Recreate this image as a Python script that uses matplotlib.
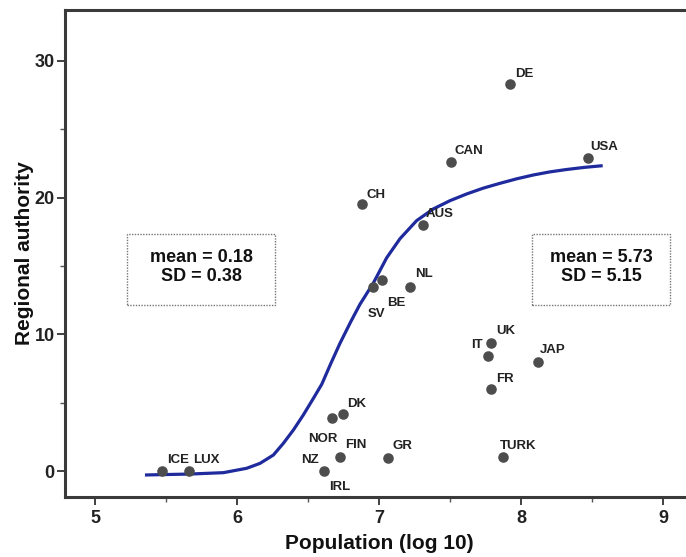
import matplotlib
matplotlib.use("Agg")
import matplotlib.pyplot as plt
from matplotlib.patches import Rectangle

plt.rcParams['font.family'] = ['Liberation Sans', 'DejaVu Sans']

# Countries: population (log10) vs regional authority
countries = ['ICE', 'LUX', 'NZ/IRL', 'NOR/FIN', 'DK-1', 'DK-2', 'GR', 'TURK', 'FR', 'IT',
             'UK', 'JAP', 'SV', 'BE', 'NL', 'AUS', 'CH', 'CAN', 'DE', 'USA']
pop_log = [5.47, 5.66, 6.615, 6.725, 6.67, 6.75, 7.06, 7.87, 7.79, 7.77,
           7.79, 8.12, 6.96, 7.02, 7.22, 7.31, 6.88, 7.51, 7.92, 8.47]
authority = [0.0, 0.0, 0.0, 1.0, 3.9, 4.15, 0.95, 1.0, 6.0, 8.4,
             9.4, 7.95, 13.5, 13.95, 13.5, 18.0, 19.5, 22.6, 28.3, 22.9]

# fitted logistic curve
curve_x = [5.352, 5.669, 5.904, 6.068, 6.162, 6.256, 6.326, 6.397, 6.467, 6.537,
           6.597, 6.66, 6.725, 6.80, 6.866, 6.96, 7.054, 7.148, 7.265, 7.383,
           7.50, 7.617, 7.735, 7.852, 7.97, 8.087, 8.20, 8.32, 8.45, 8.575]
curve_y = [-0.29, -0.22, -0.12, 0.2, 0.56, 1.17, 2.02, 3.0, 4.1, 5.3,
           6.35, 7.85, 9.34, 10.9, 12.2, 13.75, 15.6, 17.0, 18.32, 19.18,
           19.78, 20.27, 20.7, 21.05, 21.38, 21.66, 21.88, 22.06, 22.22, 22.34]

# point labels: text, x, baseline y, alignment
label_text = ['ICE', 'LUX', 'NZ', 'IRL', 'NOR', 'FIN', 'DK', 'GR', 'TURK', 'FR', 'IT',
              'UK', 'JAP', 'SV', 'BE', 'NL', 'AUS', 'CH', 'CAN', 'DE', 'USA']
label_x = [5.51, 5.69, 6.577, 6.648, 6.71, 6.758, 6.775, 7.094, 7.85, 7.824, 7.73,
           7.824, 8.135, 6.92, 7.057, 7.257, 7.33, 6.91, 7.535, 7.96, 8.49]
label_y = [0.58, 0.58, 0.58, -1.39, 2.14, 1.70, 4.67, 1.6, 1.6, 6.52, 8.98,
           10.0, 8.64, 11.3, 12.1, 14.2, 18.6, 20.0, 23.2, 28.8, 23.5]
label_ha = ['left', 'left', 'right', 'left', 'right', 'left', 'left', 'left', 'left', 'left',
            'right', 'left', 'left', 'left', 'left', 'left', 'left', 'left', 'left', 'left', 'left']

stats_left = 'mean = 0.18\nSD = 0.38'
stats_right = 'mean = 5.73\nSD = 5.15'

W, H = 686, 557
L, R, B, T = 65, 693, 497, 10
fig = plt.figure(figsize=(W / 100, H / 100), dpi=100)
ax = fig.add_axes([L / W, 1 - B / H, (R - L) / W, (B - T) / H])
ax.set_xlim(4.789, 9.211)
ax.set_ylim(-1.90, 33.73)

ax.plot(curve_x, curve_y, color='#1f2a9c', lw=2.3, zorder=2, solid_capstyle='butt',
        solid_joinstyle='round')
ax.scatter(pop_log, authority, s=58, color='#4d4d4d', zorder=3, linewidths=0)

for t, x, y, ha in zip(label_text, label_x, label_y, label_ha):
    ax.text(x, y, t, ha=ha, va='baseline', fontsize=9.5, fontweight='bold',
            color='#222222', zorder=4)


def axfrac(px, py):
    return (px - L) / (R - L), (B - py) / (B - T)


for (x0, x1), txt, cx in [((127, 275), stats_left, 201), ((532, 670), stats_right, 601)]:
    ax0, ay0 = axfrac(x0, 305)
    ax1, ay1 = axfrac(x1, 234)
    ax.add_patch(Rectangle((ax0, ay0), ax1 - ax0, ay1 - ay0, transform=ax.transAxes,
                           fc='white', ec='#777777', lw=1.0, ls=(0, (1, 1)), zorder=5))
    tx, ty = axfrac(cx, 267)
    ax.text(tx, ty, txt, transform=ax.transAxes, ha='center', va='center', fontsize=13,
            fontweight='bold', color='#111111', linespacing=1.2, zorder=6)

for s in ['left', 'bottom', 'top']:
    ax.spines[s].set_color('#3a3a3a')
    ax.spines[s].set_linewidth(2.2)
ax.spines['right'].set_visible(False)

ax.set_xticks([5, 6, 7, 8, 9])
ax.set_xticks([5.5, 6.5, 7.5, 8.5], minor=True)
ax.set_yticks([0, 10, 20, 30])
ax.set_yticks([5, 15, 25], minor=True)
ax.tick_params(which='major', length=5.5, width=1.3, color='#333333', labelsize=13)
ax.tick_params(axis='x', which='major', pad=4)
ax.tick_params(axis='y', which='major', pad=2)
ax.tick_params(which='minor', length=3.5, width=1.0, color='#555555')
for lab in ax.get_xticklabels() + ax.get_yticklabels():
    lab.set_fontweight('bold')
    lab.set_color('#222222')

ax.set_xlabel('Population (log 10)', fontsize=15, fontweight='bold', color='#111111', labelpad=5)
ax.set_ylabel('Regional authority', fontsize=15, fontweight='bold', color='#111111', labelpad=0.5)

fig.savefig('out.png', dpi=100)
